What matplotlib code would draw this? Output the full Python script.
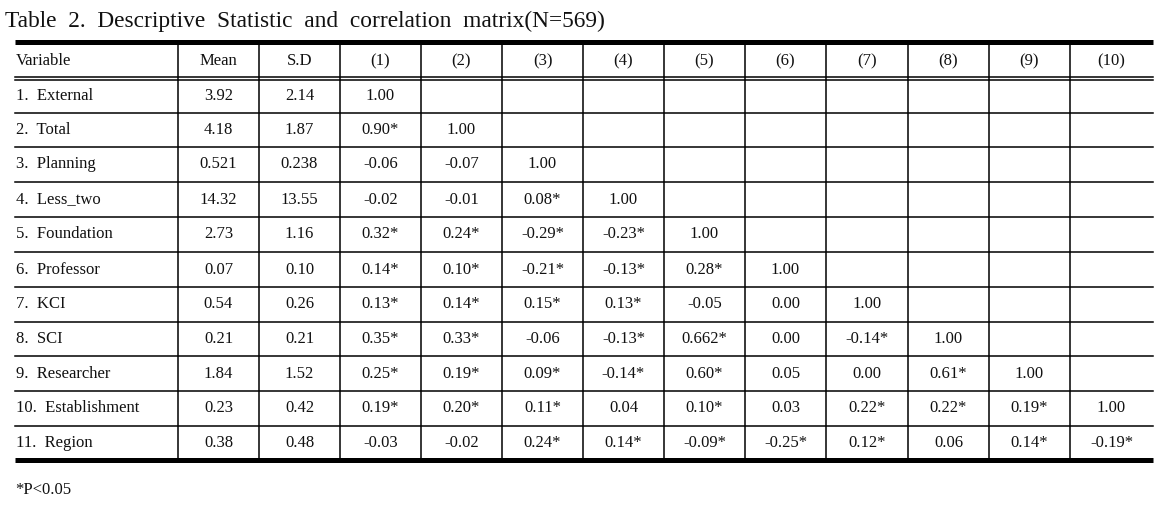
import matplotlib
matplotlib.use("Agg")
import matplotlib.pyplot as plt

# Table content
title = "Table  2.  Descriptive  Statistic  and  correlation  matrix(N=569)"
header = ["Variable", "Mean", "S.D", "(1)", "(2)", "(3)", "(4)", "(5)",
          "(6)", "(7)", "(8)", "(9)", "(10)"]
variables = ["1.  External", "2.  Total", "3.  Planning", "4.  Less_two",
             "5.  Foundation", "6.  Professor", "7.  KCI", "8.  SCI",
             "9.  Researcher", "10.  Establishment", "11.  Region"]
means = ["3.92", "4.18", "0.521", "14.32", "2.73", "0.07", "0.54", "0.21",
         "1.84", "0.23", "0.38"]
sds = ["2.14", "1.87", "0.238", "13.55", "1.16", "0.10", "0.26", "0.21",
       "1.52", "0.42", "0.48"]
corr = [
    ["1.00"],
    ["0.90*", "1.00"],
    ["-0.06", "-0.07", "1.00"],
    ["-0.02", "-0.01", "0.08*", "1.00"],
    ["0.32*", "0.24*", "-0.29*", "-0.23*", "1.00"],
    ["0.14*", "0.10*", "-0.21*", "-0.13*", "0.28*", "1.00"],
    ["0.13*", "0.14*", "0.15*", "0.13*", "-0.05", "0.00", "1.00"],
    ["0.35*", "0.33*", "-0.06", "-0.13*", "0.662*", "0.00", "-0.14*", "1.00"],
    ["0.25*", "0.19*", "0.09*", "-0.14*", "0.60*", "0.05", "0.00", "0.61*", "1.00"],
    ["0.19*", "0.20*", "0.11*", "0.04", "0.10*", "0.03", "0.22*", "0.22*", "0.19*", "1.00"],
    ["-0.03", "-0.02", "0.24*", "0.14*", "-0.09*", "-0.25*", "0.12*", "0.06", "0.14*", "-0.19*"],
]
footnote = "*P<0.05"

# Layout (pixels)
W, H = 1167, 505
col_edges = [15, 178, 259, 340, 421, 502, 583, 664, 745, 826, 908, 989, 1070, 1153]
row_edges = [79, 113, 147, 182, 217, 252, 287, 322, 356, 391, 426, 460]
top_y = 42
head_y = 61

plt.rcParams['font.family'] = ['Liberation Serif', 'DejaVu Serif']
fig = plt.figure(figsize=(W / 100, H / 100), dpi=100)
ax = fig.add_axes([0, 0, 1, 1])
ax.set_xlim(0, W)
ax.set_ylim(H, 0)
ax.axis('off')

FS = 12
ink = '#111111'

ax.text(5, 21, title, fontsize=16.8, ha='left', va='center', color=ink)

# rules
x0, x1 = col_edges[0], col_edges[-1]
ax.plot([x0, x1], [top_y, top_y], color='black', lw=3.6, solid_capstyle='butt')
ax.plot([x0, x1], [76.5, 76.5], color='black', lw=1.1)
ax.plot([x0, x1], [79.5, 79.5], color='black', lw=1.1)
for y in row_edges[1:-1]:
    ax.plot([x0, x1], [y, y], color='black', lw=1.1)
ax.plot([x0, x1], [row_edges[-1], row_edges[-1]], color='black', lw=3.6,
        solid_capstyle='butt')
for x in col_edges[1:-1]:
    ax.plot([x, x], [top_y, row_edges[-1]], color='black', lw=1.1)

centers = [(a + b) / 2 for a, b in zip(col_edges[:-1], col_edges[1:])]

# header
ax.text(col_edges[0] + 1, head_y, header[0], fontsize=FS, ha='left', va='center', color=ink)
for c, h in zip(centers[1:], header[1:]):
    ax.text(c, head_y, h, fontsize=FS, ha='center', va='center', color=ink)

# body
for i, name in enumerate(variables):
    y = (row_edges[i] + row_edges[i + 1]) / 2
    ax.text(col_edges[0] + 1, y, name, fontsize=FS, ha='left', va='center', color=ink)
    ax.text(centers[1], y, means[i], fontsize=FS, ha='center', va='center', color=ink)
    ax.text(centers[2], y, sds[i], fontsize=FS, ha='center', va='center', color=ink)
    for j, v in enumerate(corr[i]):
        ax.text(centers[3 + j], y, v, fontsize=FS, ha='center', va='center', color=ink)

ax.text(15, 490, footnote, fontsize=FS, ha='left', va='center', color=ink)

fig.savefig('out.png', dpi=100)
